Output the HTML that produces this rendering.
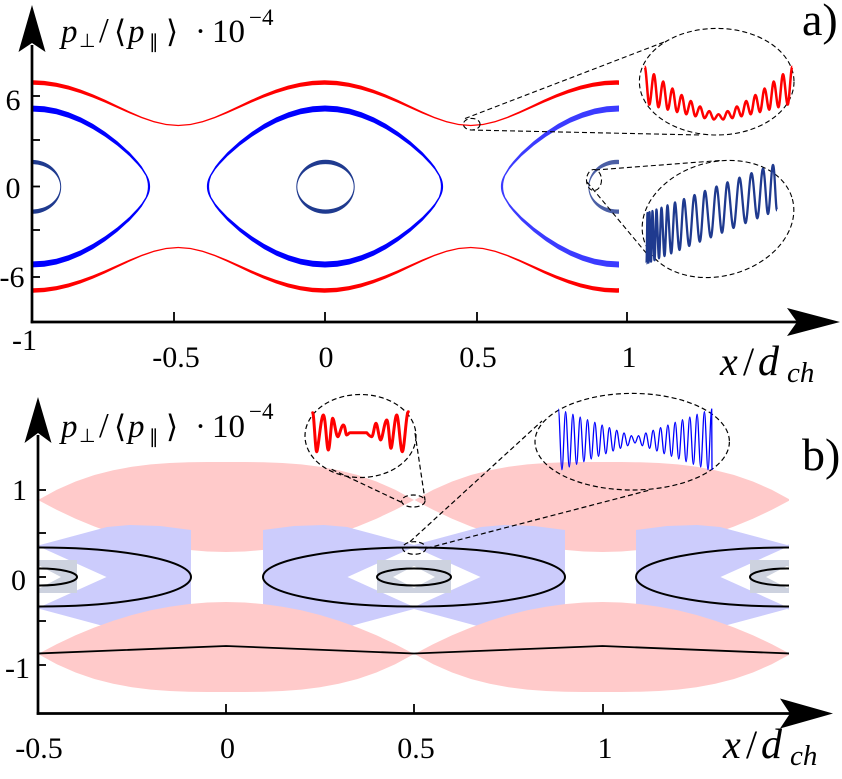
<!DOCTYPE html>
<html><head><meta charset="utf-8"><style>
html,body{margin:0;padding:0;background:#fff;}
svg{display:block;font-family:"Liberation Serif","Noto Serif CJK SC","DejaVu Serif",serif;}
svg text{font-family:"Liberation Serif","Noto Serif CJK SC","DejaVu Serif",serif;fill:#000;}
svg text.sym{font-family:"DejaVu Sans","Liberation Serif",sans-serif;}
</style></head><body>
<svg width="842" height="779" viewBox="0 0 842 779" xmlns="http://www.w3.org/2000/svg" font-family="Liberation Serif, Noto Serif CJK SC, DejaVu Serif, serif">
<defs>
<clipPath id="ca"><rect x="33" y="0" width="586" height="321"/></clipPath>
<clipPath id="cb"><rect x="39" y="380" width="750" height="332"/></clipPath>
<path id="rb" d="M0,-106.25 L12.19,-105.6 24.38,-103.8 36.56,-100.9 48.75,-96.9 60.94,-92.1 73.13,-86.7 85.31,-80.9 97.5,-75.1 109.69,-69.8 121.88,-65.5 134.06,-62.6 146.25,-61.6 158.44,-62.6 170.63,-65.5 182.81,-69.8 195,-75.1 207.19,-80.9 219.38,-86.7 231.56,-92.1 243.75,-96.9 255.94,-100.9 268.13,-103.8 280.31,-105.6 292.5,-106.25 L292.5,-101.75 280.31,-101.2 268.13,-99.6 255.94,-96.9 243.75,-93.3 231.56,-88.9 219.38,-83.9 207.19,-78.5 195,-73.1 182.81,-68.2 170.63,-64.1 158.44,-61.4 146.25,-60.4 134.06,-61.4 121.88,-64.1 109.69,-68.2 97.5,-73.1 85.31,-78.5 73.13,-83.9 60.94,-88.9 48.75,-93.3 36.56,-96.9 24.38,-99.6 12.19,-101.2 0,-101.75 Z"/>
<path id="bo" fill-rule="evenodd" d="M0,-81 L12.19,-80.2 24.38,-78 36.56,-74.2 48.75,-69.1 60.94,-62.6 73.13,-54.6 85.31,-45.2 97.5,-34.2 105.63,-25.3 109.69,-20.1 113.75,-13.4 C116.5,-9 118.1,-5 118.1,0 C118.1,5 116.5,9 113.75,13.4 L109.69,20.1 105.63,25.3 97.5,34.2 85.31,45.2 73.13,54.6 60.94,62.6 48.75,69.1 36.56,74.2 24.38,78 12.19,80.2 0,81 -12.19,80.2 -24.38,78 -36.56,74.2 -48.75,69.1 -60.94,62.6 -73.13,54.6 -85.31,45.2 -97.5,34.2 -105.63,25.3 -109.69,20.1 -113.75,13.4 C-116.5,9 -118.1,5 -118.1,0 C-118.1,-5 -116.5,-9 -113.75,-13.4 L-109.69,-20.1 -105.63,-25.3 -97.5,-34.2 -85.31,-45.2 -73.13,-54.6 -60.94,-62.6 -48.75,-69.1 -36.56,-74.2 -24.38,-78 -12.19,-80.2 Z M0,-75 L12.19,-74.2 24.38,-72.2 36.56,-68.6 48.75,-63.7 60.94,-57.4 73.13,-49.8 85.31,-40.9 97.5,-30.4 105.63,-21.9 109.69,-17 113.75,-10.6 C115,-7 115.9,-4 115.9,0 C115.9,4 115,7 113.75,10.6 L109.69,17 105.63,21.9 97.5,30.4 85.31,40.9 73.13,49.8 60.94,57.4 48.75,63.7 36.56,68.6 24.38,72.2 12.19,74.2 0,75 -12.19,74.2 -24.38,72.2 -36.56,68.6 -48.75,63.7 -60.94,57.4 -73.13,49.8 -85.31,40.9 -97.5,30.4 -105.63,21.9 -109.69,17 -113.75,10.6 C-115,7 -115.9,4 -115.9,0 C-115.9,-4 -115,-7 -113.75,-10.6 L-109.69,-17 -105.63,-21.9 -97.5,-30.4 -85.31,-40.9 -73.13,-49.8 -60.94,-57.4 -48.75,-63.7 -36.56,-68.6 -24.38,-72.2 -12.19,-74.2 Z"/>
<path id="no" fill-rule="evenodd" d="M-29.2,0 A29.2,27 0 1,0 29.2,0 A29.2,27 0 1,0 -29.2,0 Z M-28.2,0 A28.2,22.7 0 1,0 28.2,0 A28.2,22.7 0 1,0 -28.2,0 Z"/>
<path id="lens" d="M-188,-77 L-169.2,-87.3 -150.4,-95.5 -131.6,-102 -112.8,-106.8 -94,-110.25 -75.2,-112.6 -56.4,-114 -37.6,-114.7 -18.8,-115 0,-115 18.8,-115 37.6,-114.7 56.4,-114 75.2,-112.6 94,-110.25 112.8,-106.8 131.6,-102 150.4,-95.5 169.2,-87.3 188,-77 L169.2,-67.1 150.4,-58.3 131.6,-50.5 112.8,-43.7 94,-38 75.2,-33.3 56.4,-29.7 37.6,-27.1 18.8,-25.5 0,-25 -18.8,-25.5 -37.6,-27.1 -56.4,-29.7 -75.2,-33.3 -94,-38 -112.8,-43.7 -131.6,-50.5 -150.4,-58.3 -169.2,-67.1 Z"/>
<path id="blu" d="M-151,-47 L-120,-51 -90,-52 -67,-50 0,-32 67,-50 90,-52 120,-51 151,-47 L151,47 120,51 90,52 67,50 0,32 -67,50 -90,52 -120,51 -151,47 Z"/>
<g id="core">
<path d="M-66.5,0 L0,-30 66.5,0 0,30 Z" fill="#fff"/>
<rect x="-37" y="-17" width="74" height="33" fill="#cdd2df"/>
<path d="M-21,0 L0,-11 21,0 0,11 Z" fill="#fff"/>
<ellipse cx="0" cy="0" rx="151" ry="29.5" fill="none" stroke="#000" stroke-width="2"/>
<ellipse cx="0" cy="0" rx="37" ry="8.5" fill="none" stroke="#000" stroke-width="2"/>
</g>
</defs>

<!-- ================= PANEL A ================= -->
<g clip-path="url(#ca)">
<g fill="#ff0000">
<use href="#rb" transform="translate(32,186.5)"/>
<use href="#rb" transform="translate(324.5,186.5)"/>
<use href="#rb" transform="translate(617,186.5)"/>
<use href="#rb" transform="translate(32,186.5) scale(1,-1)"/>
<use href="#rb" transform="translate(324.5,186.5) scale(1,-1)"/>
<use href="#rb" transform="translate(617,186.5) scale(1,-1)"/>
</g>
<use href="#bo" fill="#0000ff" transform="translate(32,186.5)"/>
<use href="#bo" fill="#0000ff" transform="translate(325,186.5)"/>
<use href="#bo" fill="#3b3bff" transform="translate(619,186.5)"/>
<use href="#no" fill="#1f3a8f" transform="translate(32,186.8)"/>
<use href="#no" fill="#1f3a8f" transform="translate(325.5,186.8)"/>
<use href="#no" fill="#4b5fa5" transform="translate(617.5,186.8)"/>
</g>

<!-- panel a insets -->
<g fill="none" stroke="#000" stroke-width="1.1" stroke-dasharray="5 3">
<ellipse cx="471.7" cy="124.2" rx="8.3" ry="5.8"/>
<line x1="465" y1="118.5" x2="665" y2="41.7"/>
<line x1="470" y1="130" x2="700" y2="135"/>
<ellipse cx="716.7" cy="81.7" rx="77.3" ry="53.3"/>
<ellipse cx="594" cy="180" rx="7.5" ry="10.5"/>
<line x1="595" y1="170" x2="720" y2="160.5"/>
<line x1="587" y1="182" x2="647" y2="254"/>
<ellipse cx="718" cy="219" rx="77" ry="57" transform="rotate(-15 718 219)"/>
</g>
<path fill="none" stroke="#ff0000" stroke-width="2.5" stroke-linejoin="round" d="M644.7,66.7 C646.3,66.7 647.7,104.6 649.3,104.6 S652.3,74.3 653.9,74.3 S656.9,107.3 658.5,107.3 S661.5,81.5 663.1,81.5 S666.2,109.7 667.8,109.7 S670.8,88.5 672.4,88.5 S675.4,112.1 677,112.1 S680,95 681.6,95 S684.6,114.3 686.2,114.3 S689.2,101 690.8,101 S693.8,116.3 695.4,116.3 S698.4,106.5 700,106.5 S703,118.1 704.6,118.1 S707.6,111.1 709.2,111.1 S712.3,119.5 713.9,119.5 S716.9,114.3 718.5,114.3 S721.5,119.5 723.1,119.5 S726.1,111.1 727.7,111.1 S730.7,118.1 732.3,118.1 S735.3,106.5 736.9,106.5 S739.9,116.3 741.5,116.3 S744.6,101 746.2,101 S749.2,114.3 750.8,114.3 S753.8,95 755.4,95 S758.4,112.1 760,112.1 S763,88.5 764.6,88.5 S767.6,109.7 769.2,109.7 S772.2,81.5 773.8,81.5 S776.8,107.3 778.4,107.3 S781.4,74.3 783,74.3 S786.1,104.6 787.7,104.6 S790.7,66.7 792.3,66.7"/>
<path fill="none" stroke="#1f3a8f" stroke-width="2.3" stroke-linejoin="round" d="M646.5,263.4 C646.85,263.4 647.15,213 647.5,213 S648.15,262.6 648.5,262.6 S649.15,212.2 649.5,212.2 S650.5,261.6 651,261.6 S652,211 652.5,211 S653.8,260.2 654.5,260.2 S655.8,209.5 656.5,209.5 S658.1,258.3 659,258.3 S660.6,207.6 661.5,207.6 S663.5,256.1 664.5,256.1 S666.5,205.3 667.5,205.3 S669.9,253.4 671.2,253.4 S673.7,202.4 675,202.4 S677.9,250 679.5,250 S682.4,199 684,199 S687.4,246 689.2,246 S692.6,195 694.5,195 S697.9,241.7 699.8,241.7 S703.2,190.9 705,190.9 S708.8,237.3 710.8,237.3 S714.5,186.5 716.5,186.5 S720.1,232.7 722,232.7 S725.6,182.3 727.5,182.3 S731.4,228 733.5,228 S737.4,177.7 739.5,177.7 S743.4,223.1 745.5,223.1 S749.4,173.1 751.5,173.1 S755.3,218.3 757.3,218.3 S761,168.7 763,168.7 S766.25,214 768,214 S771.25,164.9 773,164.9 S775.6,210.3 777,210.3"/>

<!-- axes a -->
<g stroke="#000" stroke-width="2.7">
<line x1="32" y1="323.3" x2="32" y2="45"/>
<line x1="30.7" y1="322" x2="800" y2="322"/>
</g>
<g stroke="#000" stroke-width="1.8">
<line x1="32" y1="96" x2="40" y2="96"/>
<line x1="32" y1="140" x2="40" y2="140"/>
<line x1="32" y1="186.5" x2="40" y2="186.5"/>
<line x1="32" y1="230" x2="40" y2="230"/>
<line x1="32" y1="277" x2="40" y2="277"/>
<line x1="174" y1="312" x2="174" y2="322"/>
<line x1="325" y1="312" x2="325" y2="322"/>
<line x1="477" y1="312" x2="477" y2="322"/>
<line x1="627" y1="312" x2="627" y2="322"/>
</g>
<polygon points="32,5 45.5,52 32,43 18.5,52" fill="#000"/>
<polygon points="840,322 787,308 797,322 787,336" fill="#000"/>

<!-- labels a -->
<g font-family="Liberation Serif, Noto Serif CJK SC, DejaVu Serif, serif">
<text x="61" y="42" font-size="33" font-style="italic">p</text>
<text x="79" y="47" font-size="19" class="sym" font-family="DejaVu Sans, sans-serif">⊥</text>
<text x="99" y="42" font-size="35">/</text>
<text x="114" y="42" font-size="31" class="sym" font-family="DejaVu Sans, sans-serif">⟨</text>
<text x="128" y="42" font-size="33" font-style="italic">p</text>
<text x="149" y="48" font-size="19" class="sym" font-family="DejaVu Sans, sans-serif">∥</text>
<text x="166" y="42" font-size="31" class="sym" font-family="DejaVu Sans, sans-serif">⟩</text>
<text x="195" y="42" font-size="33">·</text>
<text x="212" y="42" font-size="33">10</text>
<text x="249" y="25" font-size="23">−4</text>
<text x="802" y="35" font-size="46">a)</text>
<g font-size="30">
<text x="20.5" y="110" text-anchor="end">6</text>
<text x="20.5" y="198" text-anchor="end">0</text>
<text x="24.5" y="287" text-anchor="end">-6</text>
<text x="12" y="350">-1</text>
<text x="176" y="367" text-anchor="middle">-0.5</text>
<text x="326" y="367" text-anchor="middle">0</text>
<text x="478" y="367" text-anchor="middle">0.5</text>
<text x="629" y="367" text-anchor="middle">1</text>
</g>
<text x="720" y="375" font-size="40" font-style="italic">x</text>
<text x="743" y="375" font-size="40">/</text>
<text x="758" y="375" font-size="42" font-style="italic">d</text>
<text x="787" y="382" font-size="29" font-style="italic">ch</text>
</g>

<!-- ================= PANEL B ================= -->
<g clip-path="url(#cb)">
<g fill="#ffcaca">
<use href="#lens" transform="translate(226,577)"/>
<use href="#lens" transform="translate(602.5,577)"/>
</g>
<g fill="#ccccfc">
<use href="#blu" transform="translate(40,577)"/>
<use href="#blu" transform="translate(414,577)"/>
<use href="#blu" transform="translate(787,577)"/>
</g>
<g fill="#ffcaca">
<use href="#lens" transform="translate(226,577) scale(1,-1)"/>
<use href="#lens" transform="translate(602.5,577) scale(1,-1)"/>
</g>
<use href="#core" transform="translate(40,577)"/>
<use href="#core" transform="translate(414,577)"/>
<use href="#core" transform="translate(787,577)"/>
<polyline fill="none" stroke="#000" stroke-width="1.8" points="38,653.5 226,646 414,653.5 602.5,646 790,653.5"/>
</g>

<!-- panel b insets -->
<g fill="none" stroke="#000" stroke-width="1.2" stroke-dasharray="5 3">
<ellipse cx="413.3" cy="501" rx="11.7" ry="6"/>
<line x1="331.7" y1="469.3" x2="403" y2="503"/>
<line x1="415" y1="433" x2="425" y2="500"/>
<ellipse cx="360.5" cy="436" rx="55.5" ry="41.5"/>
<ellipse cx="414.3" cy="548" rx="11.7" ry="6.3"/>
<line x1="410" y1="541.7" x2="542" y2="421"/>
<line x1="426.7" y1="548.3" x2="650" y2="490"/>
<ellipse cx="632.2" cy="441.7" rx="97.2" ry="48.3"/>
</g>
<path fill="none" stroke="#ff0000" stroke-width="3" stroke-linejoin="round" stroke-linecap="round" d="M312.7,412.7 C314,412.7 315.3,451.7 316.7,451.7 S321,415 323.3,415 S326.6,450 328.3,450 S331.2,418.3 332.7,418.3 S336,436.7 337.7,436.7 S341.3,425 343.3,425 S345.5,435 346.7,435 S348.8,432.7 350,432.7 L366.7,432.7 S370,436.7 371.7,436.7 S374.5,423.3 376,423.3 S379,440 380.7,440 S384.6,420 386.7,420 S389.5,448.3 391,448.3 S394.7,415 396.7,415 S400.3,451.7 402.3,451.7 S406.2,411.7 408.3,411.7"/>
<path fill="none" stroke="#0000ff" stroke-width="1.3" stroke-linejoin="round" d="M558.3,409 C559.6,409 560.65,469.7 561.95,469.7 S564.3,411.7 565.6,411.7 S567.96,467 569.26,467 S571.6,414.3 572.9,414.3 S575.26,464.3 576.56,464.3 S578.9,417 580.2,417 S582.56,461.7 583.86,461.7 S586.2,419.7 587.5,419.7 S589.87,459 591.17,459 S593.5,422.3 594.8,422.3 S597.2,456.3 598.5,456.3 S600.8,425 602.1,425 S604.5,453.7 605.8,453.7 S608.1,427.7 609.4,427.7 S611.8,451 613.1,451 S615.4,430.3 616.7,430.3 S619.1,448.3 620.4,448.3 S622.7,433 624,433 S626.4,445.7 627.7,445.7 S630,435.7 631.3,435.7 S633.7,443 635,443 S637.3,435.7 638.6,435.7 S641,445.7 642.3,445.7 S644.6,433 645.9,433 S648.3,448.3 649.6,448.3 S651.9,430.3 653.2,430.3 S655.6,451 656.9,451 S659.3,427.7 660.6,427.7 S662.9,453.7 664.2,453.7 S666.6,425 667.9,425 S670.2,456.3 671.5,456.3 S673.9,422.3 675.2,422.3 S677.5,459 678.8,459 S681.2,419.7 682.5,419.7 S684.8,461.7 686.1,461.7 S688.5,417 689.8,417 S692.1,464.3 693.4,464.3 S695.8,414.3 697.1,414.3 S699.4,467 700.7,467 S703.1,411.7 704.4,411.7 S706.7,469.7 708,469.7 S710.4,409 711.7,409 L712,470"/>

<!-- axes b -->
<g stroke="#000" stroke-width="2.7">
<line x1="38" y1="714.8" x2="38" y2="435"/>
<line x1="36.7" y1="713.5" x2="792" y2="713.5"/>
</g>
<g stroke="#000" stroke-width="1.8">
<line x1="38" y1="490" x2="46" y2="490"/>
<line x1="38" y1="533" x2="46" y2="533"/>
<line x1="38" y1="577" x2="46" y2="577"/>
<line x1="38" y1="621" x2="46" y2="621"/>
<line x1="38" y1="665" x2="46" y2="665"/>
<line x1="226" y1="704" x2="226" y2="713.5"/>
<line x1="414" y1="704" x2="414" y2="713.5"/>
<line x1="603" y1="704" x2="603" y2="713.5"/>
</g>
<polygon points="38,397 51.5,443 38,433 24.5,443" fill="#000"/>
<polygon points="833,713.5 780,698.5 790,713.5 780,728.5" fill="#000"/>

<!-- labels b -->
<g font-family="Liberation Serif, Noto Serif CJK SC, DejaVu Serif, serif">
<text x="61" y="437" font-size="33" font-style="italic">p</text>
<text x="79" y="442" font-size="19" class="sym" font-family="DejaVu Sans, sans-serif">⊥</text>
<text x="99" y="437" font-size="35">/</text>
<text x="114" y="437" font-size="31" class="sym" font-family="DejaVu Sans, sans-serif">⟨</text>
<text x="128" y="437" font-size="33" font-style="italic">p</text>
<text x="149" y="443" font-size="19" class="sym" font-family="DejaVu Sans, sans-serif">∥</text>
<text x="166" y="437" font-size="31" class="sym" font-family="DejaVu Sans, sans-serif">⟩</text>
<text x="195" y="437" font-size="33">·</text>
<text x="212" y="437" font-size="33">10</text>
<text x="249" y="419" font-size="23">−4</text>
<text x="802" y="470" font-size="46">b)</text>
<g font-size="30">
<text x="27" y="500" text-anchor="end">1</text>
<text x="26" y="590" text-anchor="end">0</text>
<text x="30" y="678" text-anchor="end">-1</text>
<text x="39" y="758" text-anchor="middle">-0.5</text>
<text x="227.5" y="758" text-anchor="middle">0</text>
<text x="416" y="758" text-anchor="middle">0.5</text>
<text x="605" y="758" text-anchor="middle">1</text>
</g>
<text x="723" y="758" font-size="40" font-style="italic">x</text>
<text x="746" y="758" font-size="40">/</text>
<text x="761" y="758" font-size="42" font-style="italic">d</text>
<text x="790" y="765" font-size="29" font-style="italic">ch</text>
</g>
</svg>
</body></html>
